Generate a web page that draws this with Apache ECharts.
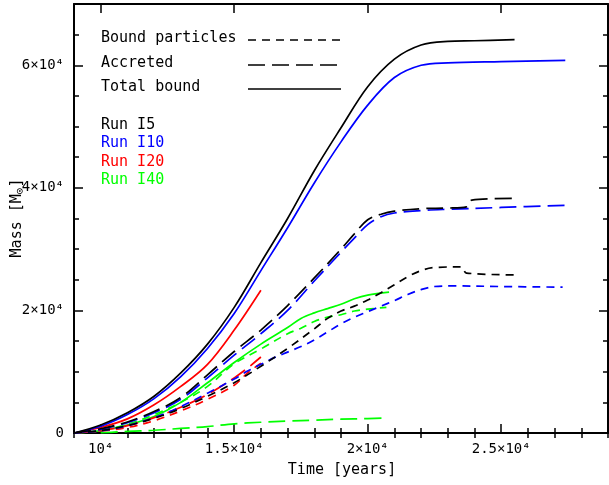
<!DOCTYPE html>
<html>
<head>
<meta charset="utf-8">
<script src="https://cdn.jsdelivr.net/npm/echarts@6/dist/echarts.min.js"></script>
<style>
  html, body { margin: 0; padding: 0; background: #fff; }
  #chart { width: 609px; height: 485px; }
</style>
</head>
<body>
<div id="chart"></div>
<script>
// Mass growth of the central object for four runs (I5, I10, I20, I40).
// Each run has three curves: bound particles, accreted mass, total bound mass.

// ---- Run I5 (black) ----
const i5TotalT   = [9000, 10000, 11000, 12000, 13000, 14000, 15000, 16000, 17000, 18000, 19000, 20000, 21000, 22000, 23000, 24000, 25500];
const i5TotalM   = [0, 1300, 3300, 6000, 9800, 14500, 20500, 27800, 35000, 42800, 49800, 56500, 61000, 63300, 63900, 64000, 64200];
const i5AccrT    = [9000, 10000, 11000, 12000, 13000, 14000, 15000, 16000, 17000, 18000, 19000, 19500, 20000, 20500, 21000, 22000, 23000, 23700, 23900, 25500];
const i5AccrM    = [0, 700, 1800, 3500, 5800, 9500, 13300, 16800, 20800, 25300, 30000, 32500, 34800, 35700, 36200, 36600, 36700, 36900, 38000, 38300];
const i5BoundT   = [9000, 10000, 11000, 12000, 13000, 14000, 15000, 16000, 17000, 18000, 18500, 19000, 19500, 20000, 20500, 21000, 21500, 22000, 22500, 23500, 23700, 25500];
const i5BoundM   = [0, 400, 1200, 2400, 4000, 6000, 8200, 10900, 13800, 17000, 18700, 19900, 20700, 21700, 22900, 24200, 25500, 26500, 27000, 27100, 26100, 25800];

// ---- Run I10 (blue) ----
const i10TotalT  = [9000, 10000, 11000, 12000, 13000, 14000, 15000, 16000, 17000, 18000, 19000, 20000, 21000, 22000, 23000, 25000, 27400];
const i10TotalM  = [0, 1100, 3000, 5600, 9200, 13800, 19500, 26500, 33500, 40800, 47500, 53500, 58000, 60000, 60400, 60600, 60800];
const i10AccrT   = [9000, 10000, 11000, 12000, 13000, 14000, 15000, 16000, 17000, 18000, 19000, 19500, 20000, 20500, 21000, 22000, 23000, 25000, 27400];
const i10AccrM   = [0, 600, 1700, 3300, 5500, 9000, 12700, 16200, 20000, 24800, 29500, 31800, 34000, 35300, 35900, 36300, 36500, 36800, 37150];
const i10BoundT  = [9000, 10000, 11000, 12000, 13000, 14000, 15000, 15500, 16000, 16500, 17000, 17500, 18000, 18500, 19000, 19500, 20000, 20500, 21000, 21500, 22000, 22500, 23200, 25000, 27300];
const i10BoundM  = [0, 350, 1200, 2500, 4300, 6500, 8800, 10100, 11200, 12300, 13200, 14100, 15200, 16500, 17800, 18900, 19800, 20700, 21600, 22600, 23400, 23900, 24000, 23900, 23800];

// ---- Run I20 (red) ----
const i20TotalT  = [9000, 10000, 11000, 12000, 13000, 14000, 15000, 16000];
const i20TotalM  = [0, 900, 2300, 4600, 7600, 11200, 16800, 23300];
const i20AccrT   = [9000, 10000, 11000, 12000, 13000, 14000, 15000, 15500, 16000];
const i20AccrM   = [0, 400, 1200, 2500, 4200, 6300, 9000, 10600, 12400];
const i20BoundT  = [9000, 10000, 11000, 12000, 13000, 14000, 15000, 15500, 16000];
const i20BoundM  = [0, 300, 900, 2000, 3600, 5500, 7800, 9800, 11400];

// ---- Run I40 (green) ----
const i40TotalT  = [9000, 10000, 11000, 12000, 13000, 14000, 15000, 16000, 17000, 17500, 18000, 18500, 19000, 19500, 20000, 20800];
const i40TotalM  = [0, 400, 1300, 2700, 5000, 8200, 11500, 14500, 17200, 18700, 19600, 20300, 21000, 21900, 22500, 23000];
const i40AccrT   = [10000, 10500, 11000, 12000, 13000, 14000, 15000, 16000, 17000, 18000, 19000, 20000, 20700];
const i40AccrM   = [0, 150, 250, 450, 750, 1050, 1500, 1750, 1950, 2100, 2250, 2350, 2450];
const i40BoundT  = [9000, 10000, 11000, 12000, 13000, 14000, 15000, 16000, 17000, 17500, 18000, 18500, 19000, 19500, 20000, 20700];
const i40BoundM  = [0, 400, 1400, 3000, 5000, 7600, 11300, 13700, 16200, 17100, 18200, 18900, 19300, 19900, 20200, 20500];

// ---- Axes ----
const xMin = 9000, xMax = 29000;
const yMin = 0, yMax = 70000;
const xMajorTicks = [10000, 15000, 20000, 25000];
const xTickLabels = ['10\u2074', '1.5\u00d710\u2074', '2\u00d710\u2074', '2.5\u00d710\u2074'];
const yMajorTicks = [0, 20000, 40000, 60000];
const yTickLabels = ['0', '2\u00d710\u2074', '4\u00d710\u2074', '6\u00d710\u2074'];
const xMinorStep = 1000, yMinorStep = 5000;

const runNames  = ['Run I5', 'Run I10', 'Run I20', 'Run I40'];
const runColors = ['#000000', '#0000ff', '#ff0000', '#00ff00'];
const kindNames = ['Bound particles', 'Accreted', 'Total bound'];

const FONT = 'DejaVu Sans Mono';
const SHORT_DASH = [8, 6];
const LONG_DASH = [17, 7];

function pairs(t, m) { return t.map((v, i) => [v, m[i]]); }
function minorValues(lo, hi, step, majors) {
  const out = [];
  for (let v = lo; v <= hi + 1e-9; v += step) if (!majors.includes(v)) out.push(v);
  return out;
}

const runs = [
  [i5BoundT, i5BoundM, i5AccrT, i5AccrM, i5TotalT, i5TotalM],
  [i10BoundT, i10BoundM, i10AccrT, i10AccrM, i10TotalT, i10TotalM],
  [i20BoundT, i20BoundM, i20AccrT, i20AccrM, i20TotalT, i20TotalM],
  [i40BoundT, i40BoundM, i40AccrT, i40AccrM, i40TotalT, i40TotalM]
];
const dashes = [SHORT_DASH, LONG_DASH, 'solid'];

const series = [];
// draw later runs first so Run I5 sits on top
for (let r = runs.length - 1; r >= 0; r--) {
  for (let k = 0; k < 3; k++) {
    series.push({
      name: runNames[r] + ' ' + kindNames[k],
      type: 'line',
      xAxisIndex: 0, yAxisIndex: 0,
      data: pairs(runs[r][2 * k], runs[r][2 * k + 1]),
      showSymbol: false,
      smooth: 0.35,
      silent: true,
      lineStyle: { color: runColors[r], width: 1.7, type: dashes[k] },
      z: 3
    });
  }
}

const axisLineStyle = { show: true, onZero: false, lineStyle: { color: '#000', width: 2 } };
const labelStyle = { color: '#000', fontFamily: FONT, fontSize: 14 };

function xAx(position, major, withLine, withLabel) {
  return {
    type: 'value', position, min: xMin, max: xMax, gridIndex: 0,
    axisLine: withLine ? axisLineStyle : { show: false },
    axisTick: {
      show: true, inside: true, length: major ? 9 : 5,
      lineStyle: { color: '#000', width: 1.5 },
      customValues: major ? xMajorTicks : minorValues(xMin, xMax, xMinorStep, xMajorTicks)
    },
    axisLabel: withLabel ? Object.assign({
      show: true, margin: 9, customValues: xMajorTicks,
      formatter: v => xTickLabels[xMajorTicks.indexOf(v)] || ''
    }, labelStyle) : { show: false },
    splitLine: { show: false }
  };
}
function yAx(position, major, withLine, withLabel) {
  return {
    type: 'value', position, min: yMin, max: yMax, gridIndex: 0,
    axisLine: withLine ? axisLineStyle : { show: false },
    axisTick: {
      show: true, inside: true, length: major ? 9 : 5,
      lineStyle: { color: '#000', width: 1.5 },
      customValues: major ? yMajorTicks : minorValues(yMin, yMax, yMinorStep, yMajorTicks)
    },
    axisLabel: withLabel ? Object.assign({
      show: true, margin: 10, customValues: yMajorTicks,
      formatter: v => yTickLabels[yMajorTicks.indexOf(v)] || ''
    }, labelStyle) : { show: false },
    splitLine: { show: false }
  };
}

// legend drawn as plain graphics
const legendX = 101, sampleX0 = 248, sampleX1 = 341;
const kindRowsY = [40, 65, 89];
const runRowsY = [127, 145, 164, 182];
const graphics = [];
kindNames.forEach((name, i) => {
  graphics.push({
    type: 'text', left: legendX, top: kindRowsY[i] - 9,
    style: { text: name, fill: '#000', font: '15px "' + FONT + '"' }
  });
  graphics.push({
    type: 'line',
    shape: { x1: sampleX0, y1: kindRowsY[i], x2: sampleX1, y2: kindRowsY[i] },
    style: { stroke: '#000', lineWidth: 1.7, lineDash: dashes[i] === 'solid' ? null : dashes[i] }
  });
});
runNames.forEach((name, i) => {
  graphics.push({
    type: 'text', left: legendX, top: runRowsY[i] - 9,
    style: { text: name, fill: runColors[i], font: '15px "' + FONT + '"' }
  });
});
// axis titles
graphics.push({
  type: 'text', x: 342, y: 470,
  style: { text: 'Time [years]', fill: '#000', font: '15px "' + FONT + '"', align: 'center', verticalAlign: 'middle' }
});
graphics.push({
  type: 'text', x: 17, y: 218, rotation: Math.PI / 2,
  style: {
    text: 'Mass [M{s|\u2299}]', fill: '#000', align: 'center', verticalAlign: 'middle',
    fontFamily: FONT, fontSize: 15,
    rich: { s: { fontFamily: FONT, fontSize: 11, padding: [6, 0, 0, 0] } }
  }
});

const chart = echarts.init(document.getElementById('chart'), null, { renderer: 'canvas' });
chart.setOption({
  animation: false,
  backgroundColor: '#fff',
  grid: { left: 74, right: 1, top: 4, bottom: 52, containLabel: false },
  xAxis: [xAx('bottom', true, true, true), xAx('bottom', false, false, false),
          xAx('top', true, true, false), xAx('top', false, false, false)],
  yAxis: [yAx('left', true, true, true), yAx('left', false, false, false),
          yAx('right', true, true, false), yAx('right', false, false, false)],
  series,
  graphic: graphics
});
</script>
</body>
</html>
